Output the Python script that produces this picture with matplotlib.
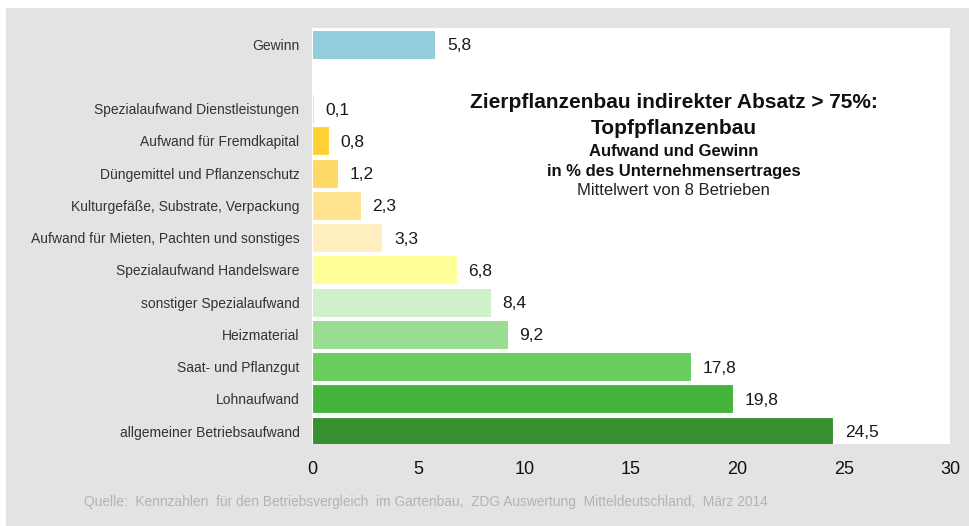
import matplotlib.pyplot as plt
from matplotlib.patches import Rectangle

plt.rcParams['font.family'] = ['Liberation Sans', 'DejaVu Sans']

categories = ['Gewinn', '', 'Spezialaufwand Dienstleistungen', 'Aufwand für Fremdkapital',
              'Düngemittel und Pflanzenschutz', 'Kulturgefäße, Substrate, Verpackung',
              'Aufwand für Mieten, Pachten und sonstiges', 'Spezialaufwand Handelsware',
              'sonstiger Spezialaufwand', 'Heizmaterial', 'Saat- und Pflanzgut',
              'Lohnaufwand', 'allgemeiner Betriebsaufwand']
values = [5.8, None, 0.1, 0.8, 1.2, 2.3, 3.3, 6.8, 8.4, 9.2, 17.8, 19.8, 24.5]
colors = ['#92cddc', None, '#d9d9d9', '#ffd233', '#ffd966', '#ffe48f', '#ffefbf',
          '#ffff99', '#d0efcb', '#99dd92', '#68cc5e', '#44b53a', '#378f2f']
xticks = [0, 5, 10, 15, 20, 25, 30]

W, H = 970, 526
fig = plt.figure(figsize=(W / 100, H / 100), dpi=100, facecolor='white')
# grey frame behind the chart
fig.patches.append(Rectangle((6 / W, 0), 1 - 6 / W, 1 - 8 / H, transform=fig.transFigure,
                             facecolor='#e3e3e3', edgecolor='none', zorder=-5))

ax = fig.add_axes([312 / W, 1 - 444 / H, (950 - 312) / W, (444 - 28) / H])
ax.set_facecolor('white')

for i, (v, c) in enumerate(zip(values, colors)):
    if v is None:
        continue
    ax.barh(i, v, height=0.9, color=c, edgecolor='white', linewidth=0.8)
    ax.text(v + 0.55, i + 0.05, ('%.1f' % v).replace('.', ','), va='center', ha='left',
            fontsize=12.5, color='#1a1a1a')

ax.set_ylim(12.4, -0.5)
ax.set_xlim(0, 30)
ax.set_yticks(range(len(categories)))
ax.set_yticklabels(categories, fontsize=10, color='#333333')
ax.set_xticks(xticks)
ax.set_xticklabels([str(t) for t in xticks], fontsize=13, color='#111111')
ax.tick_params(axis='both', length=0)
ax.tick_params(axis='y', pad=9)
ax.tick_params(axis='x', pad=12)
for s in ax.spines.values():
    s.set_visible(False)

# title block inside the plot
ax.text(0.567, 0.822, 'Zierpflanzenbau indirekter Absatz > 75%:', transform=ax.transAxes,
        ha='center', va='center', fontsize=15, fontweight='bold', color='#111111')
ax.text(0.567, 0.758, 'Topfpflanzenbau', transform=ax.transAxes,
        ha='center', va='center', fontsize=15, fontweight='bold', color='#111111')
ax.text(0.567, 0.704, 'Aufwand und Gewinn', transform=ax.transAxes,
        ha='center', va='center', fontsize=12, fontweight='bold', color='#111111')
ax.text(0.567, 0.656, 'in % des Unternehmensertrages', transform=ax.transAxes,
        ha='center', va='center', fontsize=12, fontweight='bold', color='#111111')
ax.text(0.567, 0.610, 'Mittelwert von 8 Betrieben', transform=ax.transAxes,
        ha='center', va='center', fontsize=12, color='#222222')

fig.text(84 / W, 1 - 502 / H,
         'Quelle:  Kennzahlen  für den Betriebsvergleich  im Gartenbau,  ZDG Auswertung  Mitteldeutschland,  März 2014',
         ha='left', va='center', fontsize=9.9, color='#b3b3b3')

fig.savefig('out.png', dpi=100, facecolor=fig.get_facecolor())
